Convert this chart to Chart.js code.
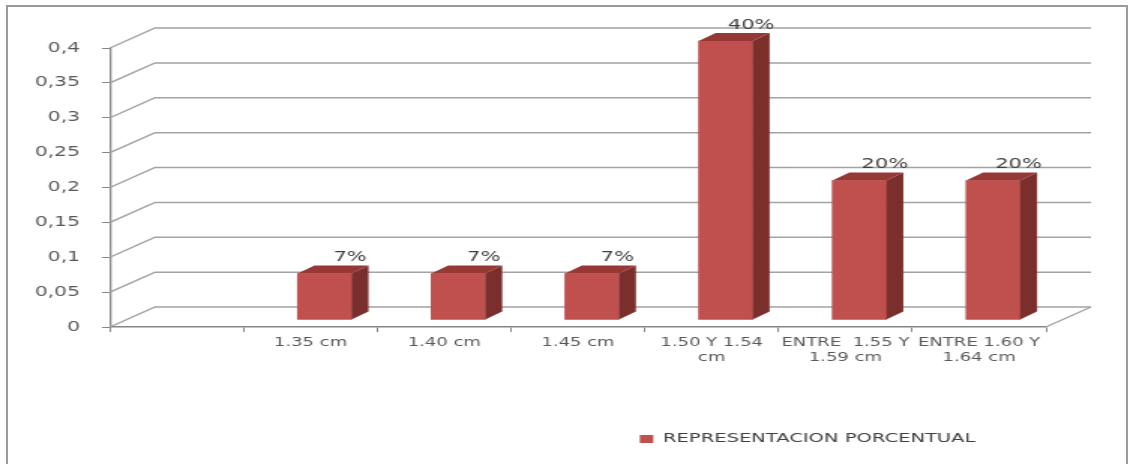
<!DOCTYPE html>
<html>
<head>
<meta charset="utf-8">
<script src="https://cdn.jsdelivr.net/npm/chart.js@4/dist/chart.umd.min.js"></script>
<style>
  html, body { margin: 0; padding: 0; background: #ffffff; }
  #wrap { position: relative; width: 1133px; height: 464px; overflow: hidden; }
  #c { position: absolute; left: 0; top: 0; width: 1133px; height: 464px; }
  #frame { position: absolute; left: 6px; top: 5px; width: 1122px; height: 480px;
           border: 2px solid #9a9a9a; box-sizing: border-box; pointer-events: none; }
</style>
</head>
<body>
<div id="wrap">
  <canvas id="c" width="755" height="464" style="width:1133px;height:464px"></canvas>
  <div id="frame"></div>
</div>
<script>
// ---- data ----
const categories = ["", "1.35 cm", "1.40 cm", "1.45 cm", ["1.50 Y 1.54", "cm"], ["ENTRE  1.55 Y", "1.59 cm"], ["ENTRE 1.60 Y", "1.64 cm"]];
const values = [null, 0.0667, 0.0667, 0.0667, 0.4, 0.2, 0.2];
const seriesName = "REPRESENTACION PORCENTUAL";
const yMin = 0, yMax = 0.4, yStep = 0.05;

// ---- geometry (canvas units; canvas is stretched horizontally by S) ----
const S = 1133 / 755;
const WALL_DX = 45 / S, WALL_DY = -20;
const BAR_SHIFT_X = 9.3, BAR_SHIFT_Y = -7;
const BAR_DX = 11.3, BAR_DY = -8;

const threeD = {
  id: 'threeD',
  beforeDatasetsDraw(chart) {
    const { ctx, chartArea: a, scales: { y } } = chart;
    ctx.save();
    ctx.strokeStyle = '#a3a3a3';
    ctx.lineWidth = 1.5;
    y.ticks.forEach(t => {
      const py = y.getPixelForValue(t.value);
      ctx.beginPath();
      ctx.moveTo(a.left, py);
      ctx.lineTo(a.left + WALL_DX, py + WALL_DY);
      ctx.lineTo(a.right + WALL_DX, py + WALL_DY);
      ctx.stroke();
    });
    const p0 = y.getPixelForValue(yMin);
    ctx.beginPath();
    ctx.moveTo(a.right, p0);
    ctx.lineTo(a.right + WALL_DX, p0 + WALL_DY);
    ctx.stroke();
    ctx.restore();
    ctx.save();
    ctx.translate(BAR_SHIFT_X, BAR_SHIFT_Y);
  },
  afterDatasetsDraw(chart) {
    const ctx = chart.ctx;
    const meta = chart.getDatasetMeta(0);
    const data = chart.data.datasets[0].data;
    meta.data.forEach((bar, i) => {
      const v = data[i];
      if (v == null) return;
      const { x, y, base, width } = bar.getProps(['x', 'y', 'base', 'width'], true);
      const l = x - width / 2, r = x + width / 2;
      ctx.fillStyle = '#7b2f2d';
      ctx.beginPath();
      ctx.moveTo(r, y); ctx.lineTo(r + BAR_DX, y + BAR_DY);
      ctx.lineTo(r + BAR_DX, base + BAR_DY); ctx.lineTo(r, base);
      ctx.closePath(); ctx.fill();
      ctx.fillStyle = '#963836';
      ctx.beginPath();
      ctx.moveTo(l, y); ctx.lineTo(l + BAR_DX, y + BAR_DY);
      ctx.lineTo(r + BAR_DX, y + BAR_DY); ctx.lineTo(r, y);
      ctx.closePath(); ctx.fill();
      ctx.fillStyle = '#404040';
      ctx.font = '14px "DejaVu Sans"';
      ctx.textAlign = 'center';
      ctx.textBaseline = 'middle';
      ctx.fillText(Math.round(v * 100) + '%', r - 1, y + BAR_DY - 8);
    });
    ctx.restore();
  }
};

new Chart(document.getElementById('c'), {
  type: 'bar',
  data: {
    labels: categories,
    datasets: [{
      label: seriesName,
      data: values,
      backgroundColor: '#c0504d',
      borderWidth: 0,
      barThickness: 36,
      clip: false
    }]
  },
  plugins: [threeD],
  options: {
    responsive: false,
    devicePixelRatio: 1,
    animation: false,
    layout: { padding: { left: 0, top: 48, right: 58, bottom: 8.5 } },
    plugins: {
      legend: {
        position: 'bottom',
        align: 'end',
        labels: {
          boxWidth: 9, boxHeight: 8, padding: 47,
          color: '#404040',
          font: { family: '"DejaVu Sans"', size: 13 }
        }
      },
      tooltip: { enabled: false }
    },
    scales: {
      x: {
        afterFit(scale) { scale.height = 58.5; },
        grid: { drawOnChartArea: false, drawTicks: true, tickLength: 5, offset: true, color: '#868686' },
        border: { display: true, color: '#868686', width: 1.5 },
        ticks: {
          color: '#595959', padding: 3.5, maxRotation: 0, autoSkip: false,
          font: { family: '"DejaVu Sans"', size: 12, lineHeight: 1.25 }
        }
      },
      y: {
        min: yMin, max: yMax,
        afterFit(scale) { scale.width = 110 / S; },
        grid: { drawOnChartArea: false, drawTicks: true, tickLength: 5.3, color: '#868686' },
        border: { display: true, color: '#868686', width: 1.3 },
        ticks: {
          stepSize: yStep, color: '#595959', padding: 14.7,
          font: { family: '"DejaVu Sans"', size: 13.5 },
          callback: v => String(Math.round(v * 100) / 100).replace('.', ',')
        }
      }
    }
  }
});
</script>
</body>
</html>
